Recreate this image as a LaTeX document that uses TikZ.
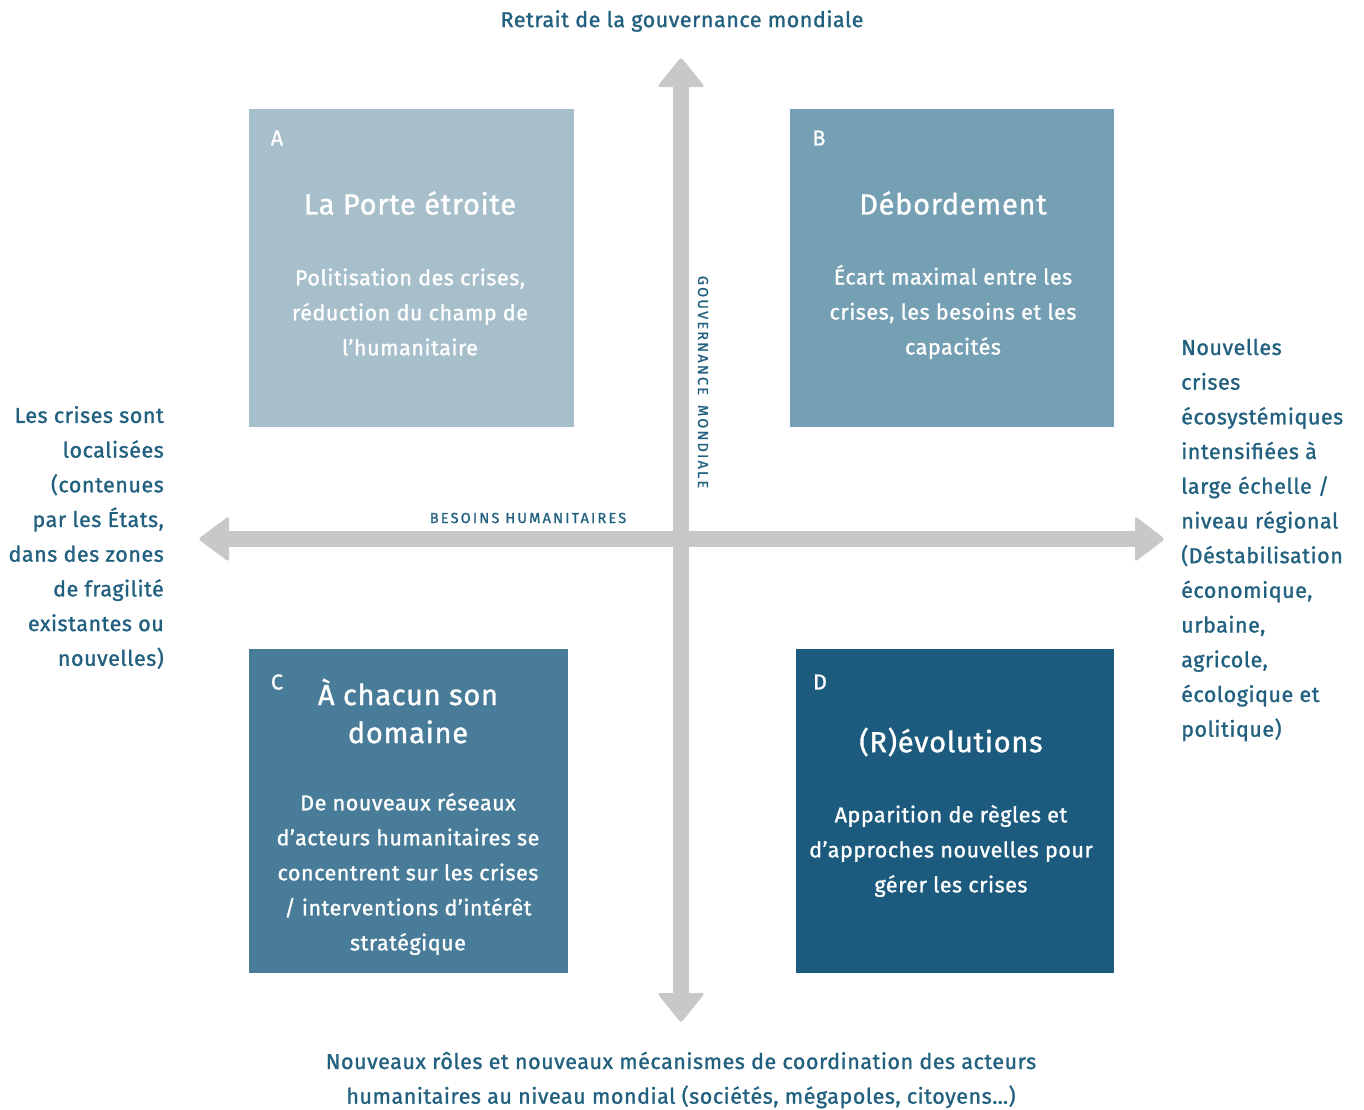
\documentclass[tikz,border=0pt]{standalone}
\usepackage{fontspec}
\setmainfont{Fira Sans}[LetterSpace=2.5]
\newfontfamily\medfont{Fira Sans}[LetterSpace=2.5, FakeBold=1.2]
\newfontfamily\capsfont{Fira Sans}[LetterSpace=15, FakeBold=1.0]
\definecolor{boxA}{HTML}{A7BFCB}
\definecolor{boxB}{HTML}{759FB3}
\definecolor{boxC}{HTML}{487C99}
\definecolor{boxD}{HTML}{1D5B7E}
\definecolor{ink}{HTML}{22607F}
\definecolor{axisgrey}{HTML}{C8C8C8}
\tikzset{
  quad/.style={draw=none, anchor=north west, inner sep=0pt},
  tag/.style={text=white, font=\medfont\fontsize{21.5}{24}\selectfont},
  qtitle/.style={text=white, align=center, font=\medfont\fontsize{29}{38}\selectfont},
  qbody/.style={text=white, align=center, font=\medfont\fontsize{21.5}{35}\selectfont},
  lbl/.style={text=ink, inner sep=0pt, font=\medfont\fontsize{21.5}{34.7}\selectfont},
  axislbl/.style={text=ink, font=\capsfont\fontsize{14.5}{16}\selectfont},
  shaft/.style={draw=axisgrey, line width=16pt},
  head/.style={fill=axisgrey, rounded corners=3pt},
}
\begin{document}
\begin{tikzpicture}[x=1pt,y=-1pt]
\useasboundingbox (0,0) rectangle (1364,1109);

% axes
\coordinate (vtop) at (681,57);
\coordinate (vbot) at (681,1023);
\coordinate (hleft) at (198,539);
\coordinate (hright) at (1165,539);
\draw[shaft] ([yshift=-28]vtop) -- ([yshift=28]vbot);
\draw[shaft] ([xshift=29]hleft) -- ([xshift=-28]hright);
\fill[head] (vtop) -- ++(24,30) -- ++(-48,0) -- cycle;
\fill[head] (vbot) -- ++(24,-30) -- ++(-48,0) -- cycle;
\fill[head] (hleft) -- ++(31,-23) -- ++(0,46) -- cycle;
\fill[head] (hright) -- ++(-30,-23) -- ++(0,46) -- cycle;

% quadrants
\node[quad, fill=boxA, minimum width=325pt, minimum height=318pt] (A) at (249,109) {};
\node[quad, fill=boxB, minimum width=324pt, minimum height=318pt] (B) at (790,109) {};
\node[quad, fill=boxC, minimum width=319pt, minimum height=324pt] (C) at (249,649) {};
\node[quad, fill=boxD, minimum width=318pt, minimum height=324pt] (D) at (796,649) {};

\node[tag] (tA) at (277,138) {A};
\node[tag] (tB) at (819,138) {B};
\node[tag] (tC) at (277,682) {C};
\node[tag] (tD) at (820,682) {D};

\node[qtitle] (hA) at (410,203) {La Porte étroite};
\node[qbody] (bA) at (410,312) {Politisation des crises,\\réduction du champ de\\l’humanitaire};
\node[qtitle] (hB) at (953,203) {Débordement};
\node[qbody] (bB) at (953,312) {Écart maximal entre les\\crises, les besoins et les\\capacités};
\node[qtitle] (hC) at (408,711) {À chacun son\\domaine};
\node[qbody] (bC) at (408,874) {De nouveaux réseaux\\d’acteurs humanitaires se\\concentrent sur les crises\\/ interventions d’intérêt\\stratégique};
\node[qtitle] (hD) at (951,742) {(R)évolutions};
\node[qbody] (bD) at (951,851) {Apparition de règles et\\d’approches nouvelles pour\\gérer les crises};

% axis ends
\node[lbl] (top) at (682,21) {Retrait de la gouvernance mondiale};
\node[lbl, align=center] (bottom) at (681,1080) {Nouveaux rôles et nouveaux mécanismes de coordination des acteurs\\humanitaires au niveau mondial (sociétés, mégapoles, citoyens…)};
\node[lbl, align=right, anchor=east] (left) at (164,537.5) {Les crises sont\\localisées\\(contenues\\par les États,\\dans des zones\\de fragilité\\existantes ou\\nouvelles)};
\node[lbl, align=left, anchor=west] (right) at (1181,540) {Nouvelles\\crises\\écosystémiques\\intensifiées à\\large échelle /\\niveau régional\\(Déstabilisation\\économique,\\urbaine,\\agricole,\\écologique et\\politique)};

% axis names
\node[axislbl] (hname) at (528,518) {BESOINS HUMANITAIRES};
\node[axislbl, rotate=-90] (vname) at (703,382) {GOUVERNANCE\hspace{10pt}MONDIALE};
\end{tikzpicture}
\end{document}
